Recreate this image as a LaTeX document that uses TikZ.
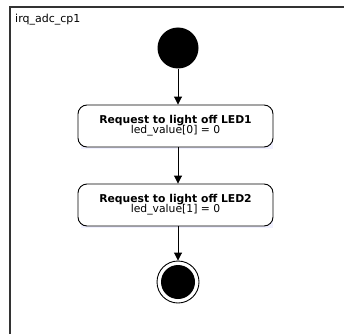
\documentclass[tikz,border=0pt]{standalone}
\usepackage{fontspec}
\setmainfont{DejaVu Sans}
\usetikzlibrary{arrows.meta}
\begin{document}
\begin{tikzpicture}[x=1pt,y=-1pt,
  statebox/.style={draw=black, line width=0.9pt, rounded corners=9pt, fill=white, minimum width=195pt, minimum height=42pt, align=center, inner sep=0pt},
  flow/.style={draw=black, line width=0.9pt, -{Triangle[length=8pt,width=8pt]}},
  lbl/.style={font=\fontsize{11}{13}\selectfont}]
\useasboundingbox (0,0) rectangle (344,334);
\fill[white] (0,0) rectangle (344,334);
\draw[line width=1.2pt, color=black!80] (10,334) -- (10,7) -- (344,7);
\node[lbl, anchor=west, inner sep=0pt] (title) at (15,19.5) {irq\_adc\_cp1};
\node[circle, fill=black, minimum size=41pt, inner sep=0pt] (start) at (178,48) {};
\fill[blue!6] (81,130) rectangle (273,149);
\node[statebox] (s1) at (175.5,126) {\fontsize{10.8}{13}\selectfont\bfseries Request to light off LED1\\[-2pt]\fontsize{10.8}{13}\selectfont led\_value[0] = 0};
\fill[blue!6] (81,209) rectangle (273,228);
\node[statebox] (s2) at (175.5,205) {\fontsize{10.8}{13}\selectfont\bfseries Request to light off LED2\\[-2pt]\fontsize{10.8}{13}\selectfont led\_value[1] = 0};
\node[circle, draw=black, line width=0.9pt, minimum size=42pt, inner sep=0pt] (end) at (178,282) {};
\node[circle, fill=black, minimum size=34pt, inner sep=0pt] (endin) at (end.center) {};
\draw[flow] (start) -- (start |- s1.north);
\draw[flow] (s1.south -| start) -- (s2.north -| start);
\draw[flow] (s2.south -| start) -- (end);
\end{tikzpicture}
\end{document}
